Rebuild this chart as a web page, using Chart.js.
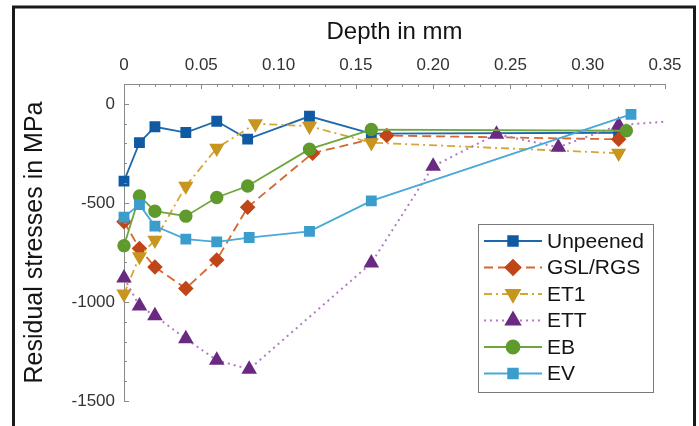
<!DOCTYPE html>
<html>
<head>
<meta charset="utf-8">
<script src="https://cdn.jsdelivr.net/npm/chart.js@4.4.0/dist/chart.umd.min.js"></script>
<style>
  html, body { margin: 0; padding: 0; background: #fff; overflow: hidden; }
  #wrap { width: 699px; height: 426px; }
</style>
</head>
<body>
<div id="wrap"><canvas id="stress" width="699" height="426"></canvas></div>
<script>
// depth in mm / residual stress in MPa
var unpeenedDepth = [0, 0.01, 0.02, 0.04, 0.06, 0.08, 0.12, 0.16, 0.32];
var unpeenedStress = [-390, -196, -116, -145, -88, -178, -63, -150, -146];
var gslDepth = [0, 0.01, 0.02, 0.04, 0.06, 0.08, 0.122, 0.17, 0.32];
var gslStress = [-595, -730, -824, -932, -788, -522, -249, -160, -179];
var et1Depth = [0, 0.01, 0.02, 0.04, 0.06, 0.085, 0.12, 0.16, 0.32];
var et1Stress = [-960, -771, -688, -415, -224, -100, -113, -196, -249];
var ettDepth = [0, 0.01, 0.02, 0.04, 0.06, 0.081, 0.16, 0.20, 0.241, 0.281, 0.32, 0.35];
var ettStress = [-879, -1020, -1070, -1186, -1294, -1340, -804, -315, -153, -219, -108, -90];
var ebDepth = [0, 0.01, 0.02, 0.04, 0.06, 0.08, 0.12, 0.16, 0.325];
var ebStress = [-716, -465, -542, -567, -473, -415, -229, -130, -136];
var evDepth = [0, 0.01, 0.02, 0.04, 0.06, 0.081, 0.12, 0.16, 0.328];
var evStress = [-572, -509, -617, -683, -697, -675, -644, -490, -53];

var seriesNames = ["Unpeened", "GSL/RGS", "ET1", "ETT", "EB", "EV"];
var xTicks = [0, 0.05, 0.1, 0.15, 0.2, 0.25, 0.3, 0.35];
var xTickLabels = ["0", "0.05", "0.10", "0.15", "0.20", "0.25", "0.30", "0.35"];
var yTicks = [0, -500, -1000, -1500];
var yTickLabels = ["0", "-500", "-1000", "-1500"];

function pts(xs, ys) {
  return xs.map(function (x, i) { return { x: x, y: ys[i] }; });
}

// white page + black frame round the figure
var frame = {
  id: "frame",
  beforeDraw: function (chart) {
    var ctx = chart.ctx;
    ctx.save();
    ctx.fillStyle = "#fff";
    ctx.fillRect(0, 0, chart.width, chart.height);
    ctx.restore();
  },
  afterDraw: function (chart) {
    var ctx = chart.ctx;
    ctx.save();
    ctx.strokeStyle = "#1a1a1a";
    ctx.lineWidth = 3;
    ctx.strokeRect(13.5, 7, 681, 460);
    ctx.restore();
  }
};

// matlab style inward ticks
var inTicks = {
  id: "inTicks",
  afterDraw: function (chart) {
    var ctx = chart.ctx, xs = chart.scales.x, ys = chart.scales.y;
    var top = chart.chartArea.top, left = chart.chartArea.left;
    ctx.save();
    ctx.strokeStyle = "#8a8a8a";
    ctx.lineWidth = 1;
    ctx.beginPath();
    for (var i = 0; i <= 35; i++) {
      var px = Math.round(xs.getPixelForValue(i / 100)) + 0.5;
      var len = i % 5 === 0 ? 5 : 3;
      ctx.moveTo(px, top);
      ctx.lineTo(px, top + len);
    }
    for (var v = -1500; v <= 100; v += 100) {
      var py = Math.round(ys.getPixelForValue(v)) + 0.5;
      var l = v % 500 === 0 ? 5 : 3;
      ctx.moveTo(left, py);
      ctx.lineTo(left + l, py);
    }
    ctx.stroke();
    ctx.restore();
  }
};

var legendBox = {
  id: "legendBox",
  afterDraw: function (chart) {
    var ctx = chart.ctx;
    var bx = 478, by = 224, bw = 175, bh = 168;
    ctx.save();
    ctx.fillStyle = "#fff";
    ctx.fillRect(bx, by, bw, bh);
    ctx.strokeStyle = "#7a7a7a";
    ctx.lineWidth = 1;
    ctx.strokeRect(bx + 0.5, by + 0.5, bw, bh);
    chart.data.datasets.forEach(function (ds, i) {
      var y = 241 + i * 26.5;
      ctx.strokeStyle = ds.borderColor;
      ctx.lineWidth = ds.borderWidth;
      ctx.setLineDash(ds.borderDash || []);
      ctx.beginPath();
      ctx.moveTo(484, y);
      ctx.lineTo(542, y);
      ctx.stroke();
      ctx.setLineDash([]);
      ctx.fillStyle = ds.pointBackgroundColor;
      ctx.strokeStyle = ds.pointBorderColor;
      Chart.helpers.drawPoint(ctx, {
        pointStyle: ds.pointStyle,
        rotation: ds.pointRotation || 0,
        radius: ds.legendRadius,
        borderWidth: 1
      }, 513, y);
      ctx.fillStyle = "#141414";
      ctx.font = "21px 'Liberation Sans', Arial, sans-serif";
      ctx.textBaseline = "middle";
      ctx.textAlign = "left";
      ctx.fillText(ds.label, 547, y + 1);
    });
    ctx.restore();
  }
};

var ettRadius = ettDepth.map(function (d, i) { return i === ettDepth.length - 1 ? 0 : 7; });

var ctx = document.getElementById("stress");
var stressChart = new Chart(ctx, {
  type: "line",
  data: {
    datasets: [
      {
        label: seriesNames[0],
        data: pts(unpeenedDepth, unpeenedStress),
        borderColor: "#2068ad",
        borderWidth: 1.8,
        pointStyle: "rect",
        pointRadius: 6.4,
        legendRadius: 6.8,
        pointBackgroundColor: "#0f5aa2",
        pointBorderColor: "#0f5aa2",
        clip: false,
        order: 6
      },
      {
        label: seriesNames[1],
        data: pts(gslDepth, gslStress),
        borderColor: "#d9652f",
        borderWidth: 1.8,
        borderDash: [9, 5],
        pointStyle: "rectRot",
        pointRadius: 6.5,
        legendRadius: 7.5,
        pointBackgroundColor: "#c0461a",
        pointBorderColor: "#c0461a",
        clip: false,
        order: 5
      },
      {
        label: seriesNames[2],
        data: pts(et1Depth, et1Stress),
        borderColor: "#d6a534",
        borderWidth: 1.8,
        borderDash: [8, 4, 2, 4],
        pointStyle: "triangle",
        pointRotation: 180,
        pointRadius: 7,
        legendRadius: 8,
        pointBackgroundColor: "#c8951f",
        pointBorderColor: "#c8951f",
        clip: false,
        order: 4
      },
      {
        label: seriesNames[3],
        data: pts(ettDepth, ettStress),
        borderColor: "#b27bc4",
        borderWidth: 2,
        borderDash: [2, 4],
        pointStyle: "triangle",
        pointRadius: ettRadius,
        legendRadius: 8,
        pointBackgroundColor: "#6a2a82",
        pointBorderColor: "#6a2a82",
        clip: false,
        order: 3
      },
      {
        label: seriesNames[4],
        data: pts(ebDepth, ebStress),
        borderColor: "#6ea63c",
        borderWidth: 1.8,
        pointStyle: "circle",
        pointRadius: 5.8,
        legendRadius: 6.5,
        pointBackgroundColor: "#5f9a2c",
        pointBorderColor: "#5f9a2c",
        clip: false,
        order: 2
      },
      {
        label: seriesNames[5],
        data: pts(evDepth, evStress),
        borderColor: "#47a9d8",
        borderWidth: 1.8,
        pointStyle: "rect",
        pointRadius: 6.4,
        legendRadius: 6.8,
        pointBackgroundColor: "#3b9dcb",
        pointBorderColor: "#3b9dcb",
        clip: false,
        order: 1
      }
    ]
  },
  options: {
    responsive: false,
    animation: false,
    layout: { padding: { left: 0, top: 0, right: 34, bottom: 25 } },
    plugins: {
      legend: { display: false },
      tooltip: { enabled: false }
    },
    elements: { line: { tension: 0 } },
    scales: {
      x: {
        type: "linear",
        position: "top",
        min: 0,
        max: 0.35,
        afterBuildTicks: function (scale) {
          scale.ticks = xTicks.map(function (v) { return { value: v }; });
        },
        afterFit: function (scale) { scale.height = 84; },
        ticks: {
          padding: 8,
          color: "#333",
          font: { size: 17, family: "'Liberation Sans', Arial, sans-serif" },
          callback: function (v) { return xTickLabels[xTicks.indexOf(v)]; }
        },
        grid: { display: false, drawTicks: false },
        border: { display: true, color: "#8a8a8a", width: 1 },
        title: {
          display: true,
          text: "Depth in mm",
          color: "#141414",
          padding: { top: 18, bottom: 0 },
          font: { size: 24, family: "'Liberation Sans', Arial, sans-serif" }
        }
      },
      y: {
        type: "linear",
        position: "left",
        min: -1500,
        max: 100,
        afterBuildTicks: function (scale) {
          scale.ticks = yTicks.map(function (v) { return { value: v }; });
        },
        afterFit: function (scale) { scale.width = 124; },
        ticks: {
          padding: 9,
          color: "#333",
          font: { size: 17, family: "'Liberation Sans', Arial, sans-serif" },
          callback: function (v) { return yTickLabels[yTicks.indexOf(v)]; }
        },
        grid: { display: false, drawTicks: false },
        border: { display: true, color: "#8a8a8a", width: 1 },
        title: {
          display: true,
          text: "Residual stresses in MPa",
          color: "#141414",
          padding: { top: 20, bottom: 0 },
          font: { size: 25, family: "'Liberation Sans', Arial, sans-serif" }
        }
      }
    }
  },
  plugins: [frame, inTicks, legendBox]
});
</script>
</body>
</html>
